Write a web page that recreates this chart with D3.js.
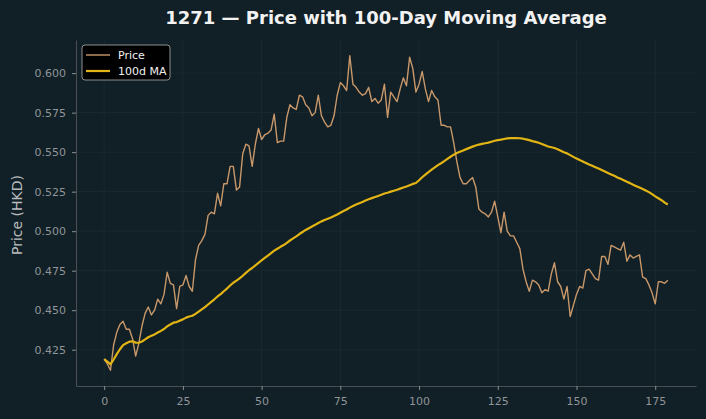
<!DOCTYPE html>
<html>
<head>
<meta charset="utf-8">
<script src="https://d3js.org/d3.v7.min.js"></script>
<style>
  body { margin: 0; background: #111f26; }
  text { font-family: "DejaVu Sans", sans-serif; }
</style>
</head>
<body>
<div id="chart"></div>
<script>

// daily closing price (HKD), day 0..179
const price = [
  0.419, 0.416, 0.412, 0.428, 0.436, 0.441, 0.443, 0.438, 0.438, 0.432,
  0.421, 0.429, 0.440, 0.448, 0.452, 0.447, 0.450, 0.457, 0.454, 0.460,
  0.474, 0.467, 0.466, 0.451, 0.465, 0.466, 0.472, 0.465, 0.462, 0.482,
  0.491, 0.494, 0.498, 0.510, 0.512, 0.511, 0.524, 0.516, 0.530, 0.530,
  0.541, 0.541, 0.526, 0.528, 0.549, 0.555, 0.554, 0.541, 0.555, 0.565,
  0.558, 0.561, 0.562, 0.564, 0.574, 0.556, 0.557, 0.557, 0.572, 0.580,
  0.578, 0.577, 0.586, 0.585, 0.580, 0.578, 0.573, 0.575, 0.586, 0.573,
  0.569, 0.566, 0.567, 0.573, 0.586, 0.594, 0.592, 0.589, 0.611, 0.593,
  0.591, 0.588, 0.586, 0.587, 0.591, 0.582, 0.584, 0.581, 0.583, 0.593,
  0.572, 0.588, 0.585, 0.582, 0.590, 0.597, 0.592, 0.610, 0.603, 0.588,
  0.593, 0.601, 0.590, 0.582, 0.589, 0.585, 0.583, 0.567, 0.567, 0.566,
  0.566, 0.556, 0.544, 0.534, 0.530, 0.530, 0.532, 0.534, 0.528, 0.514,
  0.512, 0.511, 0.509, 0.512, 0.519, 0.509, 0.499, 0.512, 0.500, 0.497,
  0.497, 0.493, 0.489, 0.476, 0.468, 0.462, 0.469, 0.468, 0.466, 0.461,
  0.463, 0.462, 0.473, 0.480, 0.468, 0.465, 0.457, 0.465, 0.446, 0.453,
  0.460, 0.465, 0.464, 0.475, 0.476, 0.473, 0.470, 0.469, 0.484, 0.484,
  0.479, 0.491, 0.490, 0.489, 0.488, 0.493, 0.481, 0.485, 0.483, 0.484,
  0.485, 0.471, 0.470, 0.466, 0.461, 0.454, 0.468, 0.468, 0.467, 0.469
];

// 100-day moving average as plotted
const ma100 = [
  0.4190, 0.4175, 0.4157, 0.4188, 0.4222, 0.4253, 0.4279, 0.4291, 0.4301, 0.4303,
  0.4295, 0.4294, 0.4302, 0.4315, 0.4329, 0.4338, 0.4347, 0.4359, 0.4369, 0.4381,
  0.4398, 0.4410, 0.4421, 0.4425, 0.4434, 0.4442, 0.4453, 0.4460, 0.4465, 0.4477,
  0.4491, 0.4505, 0.4519, 0.4536, 0.4553, 0.4569, 0.4587, 0.4602, 0.4620, 0.4637,
  0.4656, 0.4674, 0.4687, 0.4701, 0.4718, 0.4736, 0.4753, 0.4767, 0.4783, 0.4800,
  0.4816, 0.4831, 0.4846, 0.4861, 0.4877, 0.4889, 0.4901, 0.4912, 0.4926, 0.4941,
  0.4954, 0.4967, 0.4982, 0.4995, 0.5008, 0.5019, 0.5030, 0.5040, 0.5052, 0.5062,
  0.5071, 0.5079, 0.5087, 0.5096, 0.5106, 0.5117, 0.5127, 0.5137, 0.5149, 0.5159,
  0.5169, 0.5177, 0.5185, 0.5194, 0.5202, 0.5209, 0.5216, 0.5223, 0.5230, 0.5238,
  0.5243, 0.5250, 0.5256, 0.5262, 0.5269, 0.5276, 0.5283, 0.5291, 0.5299, 0.5305,
  0.5322, 0.5341, 0.5358, 0.5374, 0.5389, 0.5404, 0.5418, 0.5430, 0.5443, 0.5457,
  0.5471, 0.5484, 0.5494, 0.5503, 0.5511, 0.5519, 0.5527, 0.5535, 0.5542, 0.5548,
  0.5552, 0.5556, 0.5560, 0.5566, 0.5572, 0.5576, 0.5579, 0.5583, 0.5587, 0.5589,
  0.5589, 0.5589, 0.5588, 0.5585, 0.5581, 0.5576, 0.5570, 0.5565, 0.5559, 0.5552,
  0.5544, 0.5536, 0.5531, 0.5526, 0.5518, 0.5509, 0.5499, 0.5492, 0.5481, 0.5470,
  0.5460, 0.5450, 0.5441, 0.5432, 0.5422, 0.5414, 0.5405, 0.5396, 0.5387, 0.5378,
  0.5368, 0.5359, 0.5350, 0.5340, 0.5331, 0.5322, 0.5313, 0.5304, 0.5294, 0.5285,
  0.5276, 0.5267, 0.5257, 0.5247, 0.5234, 0.5220, 0.5208, 0.5196, 0.5181, 0.5169
];

const days = price.map((d, i) => i);
const xTicks = [0, 25, 50, 75, 100, 125, 150, 175];
const yTicks = [0.425, 0.450, 0.475, 0.500, 0.525, 0.550, 0.575, 0.600];

const W = 706, H = 419;
const margin = {top: 40, right: 10, bottom: 33, left: 76};
const width = W - margin.left - margin.right,
      height = H - margin.top - margin.bottom;

const svg = d3.select("#chart").append("svg")
    .attr("width", W)
    .attr("height", H)
    .style("background", "#111f26");

// matplotlib style 5% padding
const xPad = (days.length - 1) * 0.05;
const x = d3.scaleLinear()
    .domain([-xPad, days.length - 1 + xPad])
    .range([margin.left, margin.left + width]);

const lo = d3.min(price.concat(ma100)), hi = d3.max(price.concat(ma100));
const yPad = (hi - lo) * 0.05;
const y = d3.scaleLinear()
    .domain([lo - yPad, hi + yPad])
    .range([margin.top + height, margin.top]);

// grid
const grid = svg.append("g");
grid.selectAll(".gx").data(xTicks).join("line")
    .attr("x1", d => x(d)).attr("x2", d => x(d))
    .attr("y1", margin.top).attr("y2", margin.top + height)
    .attr("stroke", "#1c2c33").attr("stroke-width", 0.8);
grid.selectAll(".gy").data(yTicks).join("line")
    .attr("y1", d => y(d)).attr("y2", d => y(d))
    .attr("x1", margin.left).attr("x2", margin.left + width)
    .attr("stroke", "#1c2c33").attr("stroke-width", 0.8);

// axes
const xAxis = svg.append("g")
    .attr("transform", `translate(0,${margin.top + height})`)
    .call(d3.axisBottom(x).tickValues(xTicks).tickSize(4).tickPadding(7).tickSizeOuter(0));
const yAxis = svg.append("g")
    .attr("transform", `translate(${margin.left},0)`)
    .call(d3.axisLeft(y).tickValues(yTicks).tickFormat(d3.format(".3f")).tickSize(4).tickPadding(6).tickSizeOuter(0));

[xAxis, yAxis].forEach(a => {
  a.select(".domain").attr("stroke", "#4a4f52");
  a.selectAll(".tick line").attr("stroke", "#8a8f92");
  a.selectAll(".tick text").attr("fill", "#8f9598").style("font-size", "11px");
});

// lines
const priceLine = d3.line().x((d, i) => x(days[i])).y(d => y(d));
svg.append("path")
    .datum(price)
    .attr("fill", "none")
    .attr("stroke", "#c8986a")
    .attr("stroke-width", 1.4)
    .attr("stroke-linejoin", "round")
    .attr("d", priceLine);

svg.append("path")
    .datum(ma100)
    .attr("fill", "none")
    .attr("stroke", "#e3b514")
    .attr("stroke-width", 2.2)
    .attr("stroke-linejoin", "round")
    .attr("d", priceLine);

// title + label
svg.append("text")
    .attr("x", margin.left + width / 2)
    .attr("y", 24)
    .attr("text-anchor", "middle")
    .attr("fill", "#f2f2f2")
    .style("font-size", "18px")
    .style("font-weight", "bold")
    .text("1271 — Price with 100-Day Moving Average");

svg.append("text")
    .attr("transform", `translate(22,${margin.top + height / 2 + 2}) rotate(-90)`)
    .attr("text-anchor", "middle")
    .attr("fill", "#b8bcbe")
    .style("font-size", "14px")
    .text("Price (HKD)");

// legend
const lg = svg.append("g").attr("transform", "translate(82,45)");
lg.append("rect")
    .attr("width", 88).attr("height", 35).attr("rx", 3)
    .attr("fill", "#000000").attr("stroke", "#b0b0b0").attr("stroke-width", 0.8);
const items = [{name: "Price", color: "#c8986a", w: 1.4}, {name: "100d MA", color: "#e3b514", w: 2.2}];
items.forEach((it, i) => {
  lg.append("line")
    .attr("x1", 4).attr("x2", 28)
    .attr("y1", 10 + i * 16).attr("y2", 10 + i * 16)
    .attr("stroke", it.color).attr("stroke-width", it.w);
  lg.append("text")
    .attr("x", 36).attr("y", 14 + i * 16)
    .attr("fill", "#f0f0f0")
    .style("font-size", "11px")
    .text(it.name);
});

</script>
</body>
</html>
